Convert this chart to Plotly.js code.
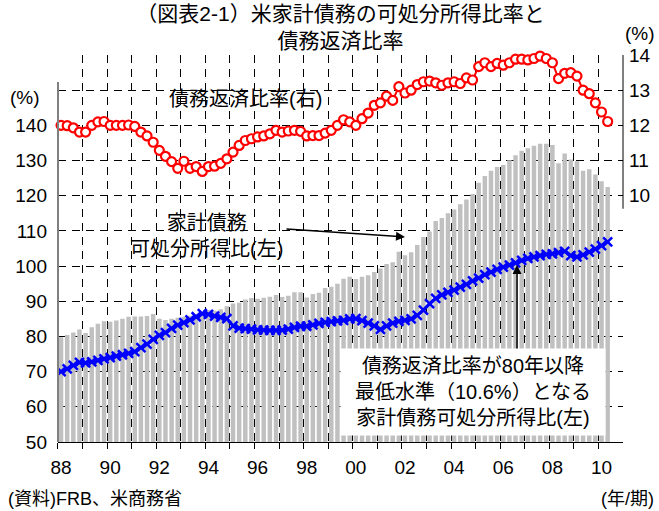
<!DOCTYPE html>
<html><head><meta charset="utf-8">
<script src="https://cdn.plot.ly/plotly-3.0.1.min.js"></script>
<style>html,body{margin:0;padding:0;background:#fff}</style>
</head><body><div id="chart" style="width:659px;height:511px"></div>
<script>
// Quarterly data, 1988Q1 - 2010Q2
const startYear = 1988;
// Household debt / disposable income (%) - gray bars, left axis
const debtIncomeBars = [
  79.8, 80.4, 81.1, 82.0, 81.0, 82.6, 83.6, 84.3, 84.2, 84.5,
  85.0, 85.6, 85.7, 85.7, 85.8, 86.4, 85.0, 84.7, 85.0, 85.3,
  85.6, 85.9, 86.4, 87.0, 87.5, 87.3, 87.7, 88.6, 89.4, 89.6,
  90.5, 90.9, 90.7, 91.0, 91.3, 91.8, 91.2, 91.6, 92.6, 92.6,
  91.1, 92.1, 92.4, 93.8, 94.1, 95.0, 96.4, 97.0, 96.3, 97.0,
  97.4, 98.3, 99.3, 100.6, 101.1, 104.1, 103.1, 103.9, 106.0, 108.3,
  109.8, 112.8, 113.7, 115.0, 116.1, 117.6, 118.9, 120.5, 123.7, 125.6,
  127.1, 128.2, 128.7, 130.1, 131.5, 132.8, 133.5, 134.2, 134.8, 134.8,
  134.4, 129.2, 132.0, 130.3, 129.8, 127.1, 127.5, 126.0, 124.1, 122.5
];
// Debt / disposable income at which debt service ratio = 10.6% (blue, left axis)
const lowDsrDebtIncome = [
  70.0, 70.8, 71.8, 72.6, 72.5, 72.8, 73.2, 73.6, 74.0, 74.4,
  74.8, 75.2, 75.7, 76.8, 77.8, 79.2, 80.3, 81.1, 82.3, 83.2,
  83.9, 84.7, 85.6, 86.5, 86.3, 85.8, 85.4, 85.1, 83.0, 82.4,
  82.2, 82.1, 81.9, 81.8, 81.7, 81.7, 81.8, 82.1, 82.6, 82.9,
  82.9, 83.3, 83.7, 84.0, 84.2, 84.4, 84.6, 85.0, 85.1, 84.5,
  83.8, 83.0, 82.0, 83.0, 83.8, 84.3, 84.6, 85.0, 86.0, 87.5,
  89.3, 90.8, 91.8, 92.5, 93.2, 94.0, 94.8, 95.8, 96.6, 97.6,
  98.3, 99.1, 99.7, 100.3, 100.9, 101.6, 102.2, 102.6, 103.0, 103.3,
  103.5, 103.8, 104.2, 103.0, 102.6, 103.2, 104.0, 104.8, 105.8, 106.9
];
// Debt service ratio (%) - red, right axis
const debtServiceRatio = [
  12.00, 11.99, 11.93, 11.81, 11.81, 12.00, 12.10, 12.11, 12.00, 12.00,
  12.00, 12.01, 11.97, 11.81, 11.70, 11.52, 11.29, 11.12, 10.97, 10.78,
  10.98, 10.78, 10.83, 10.69, 10.83, 10.84, 10.92, 11.05, 11.24, 11.43,
  11.57, 11.62, 11.67, 11.70, 11.76, 11.86, 11.81, 11.84, 11.86, 11.83,
  11.70, 11.71, 11.71, 11.78, 11.86, 12.00, 12.16, 12.10, 12.00, 12.19,
  12.35, 12.57, 12.64, 12.83, 12.71, 13.10, 12.92, 13.00, 13.16, 13.24,
  13.26, 13.21, 13.14, 13.21, 13.24, 13.19, 13.35, 13.29, 13.67, 13.78,
  13.67, 13.76, 13.71, 13.78, 13.88, 13.88, 13.86, 13.90, 13.97, 13.90,
  13.78, 13.33, 13.48, 13.50, 13.40, 13.00, 12.90, 12.64, 12.38, 12.11
];
const xTickVals = [1988, 1990, 1992, 1994, 1996, 1998, 2000, 2002, 2004, 2006, 2008, 2010];
const xTickText = ["88", "90", "92", "94", "96", "98", "00", "02", "04", "06", "08", "10"];
const leftTickVals = [50, 60, 70, 80, 90, 100, 110, 120, 130, 140, 150, 160];
const leftTickText = ["50", "60", "70", "80", "90", "100", "110", "120", "130", "140", "", ""];
const rightTickVals = [10, 11, 12, 13, 14];

const quarters = debtIncomeBars.map((_, i) => startYear + i / 4);
const yearBoundaries = [];
for (let y = startYear; y <= 2010; y++) yearBoundaries.push(y - 0.125);

const numFont = 'Liberation Sans, Arial, Noto Sans CJK JP, sans-serif';
const jpFont = 'Liberation Sans, Noto Sans CJK JP, sans-serif';
const gridDash = '8px,6px';
const xRange = [1987.876, 2010.874];

const traces = [
  {
    type: 'bar', x: quarters, y: debtIncomeBars, xaxis: 'x', yaxis: 'y',
    marker: {color: '#C0C0C0', line: {width: 0}}, hoverinfo: 'skip', showlegend: false
  },
  {
    type: 'scatter', mode: 'lines+markers', x: quarters, y: lowDsrDebtIncome, xaxis: 'x2', yaxis: 'y',
    line: {color: '#0000FF', width: 3},
    marker: {symbol: 'x-thin', size: 9, color: '#0000FF', line: {color: '#0000FF', width: 2.5}},
    hoverinfo: 'skip', showlegend: false
  },
  {
    type: 'scatter', mode: 'lines+markers', x: quarters, y: debtServiceRatio, xaxis: 'x', yaxis: 'y2',
    line: {color: '#FF0000', width: 2},
    marker: {symbol: 'circle', size: 9, color: '#FFFFFF', line: {color: '#FF0000', width: 2.2}},
    cliponaxis: false, hoverinfo: 'skip', showlegend: false
  }
];

const layout = {
  width: 659, height: 511,
  margin: {l: 58, r: 36, t: 55, b: 69},
  paper_bgcolor: '#FFFFFF', plot_bgcolor: '#FFFFFF',
  font: {family: jpFont, color: '#000000', size: 19},
  bargap: 0.27,
  title: {
    text: '（図表2-1）米家計債務の可処分所得比率と<br>債務返済比率',
    font: {family: jpFont, size: 21, color: '#000'},
    x: 0.5, xref: 'paper', xanchor: 'center',
    y: 1 - 21 / 511, yref: 'container', yanchor: 'bottom'
  },
  xaxis: {
    range: xRange,
    tickmode: 'array', tickvals: yearBoundaries,
    ticktext: yearBoundaries.map(() => ''),
    ticks: 'outside', ticklen: 6, tickcolor: '#000', tickwidth: 1,
    showgrid: true, gridcolor: '#000000', gridwidth: 1, griddash: gridDash,
    zeroline: false, showline: true, linecolor: '#000000', linewidth: 1
  },
  xaxis2: {
    overlaying: 'x', anchor: 'y', side: 'bottom',
    range: xRange,
    tickmode: 'array', tickvals: xTickVals, ticktext: xTickText,
    ticks: '', showgrid: false, zeroline: false, showline: false,
    tickfont: {family: numFont, size: 19},
    ticklabelstandoff: 12
  },
  yaxis: {
    range: [50, 160],
    tickmode: 'array', tickvals: leftTickVals, ticktext: leftTickText,
    ticks: '', showline: false, zeroline: false,
    showgrid: true, gridcolor: '#000000', gridwidth: 1, griddash: gridDash,
    tickfont: {family: numFont, size: 19},
    ticklabelstandoff: 10
  },
  yaxis2: {
    overlaying: 'y', side: 'right', anchor: 'x',
    range: [3, 14],
    tickmode: 'array', tickvals: rightTickVals,
    ticks: '', showgrid: false, zeroline: false, showline: false,
    tickfont: {family: numFont, size: 19},
    ticklabelstandoff: 5
  },
  shapes: [
    {type: 'line', xref: 'paper', yref: 'y', x0: 0, x1: 0, y0: 50, y1: 152.3,
     line: {color: '#808080', width: 2}},
    {type: 'line', xref: 'paper', yref: 'y2', x0: 1, x1: 1, y0: 9.63, y1: 14,
     line: {color: '#000000', width: 1}}
  ],
  annotations: [
    {text: '(%)', xref: 'paper', yref: 'paper', x: -0.058, y: 0.889,
     xanchor: 'center', yanchor: 'middle', showarrow: false, font: {size: 19}},
    {text: '(%)', xref: 'paper', yref: 'paper', x: 1.03, y: 1.055,
     xanchor: 'center', yanchor: 'middle', showarrow: false, font: {size: 19}},
    {text: '債務返済比率(右)', xref: 'paper', yref: 'paper', x: 0.331, y: 0.886,
     xanchor: 'center', yanchor: 'middle', showarrow: false, font: {size: 20}},
    {text: '家計債務<br>可処分所得比(左)', xref: 'paper', yref: 'paper', x: 0.262, y: 0.532,
     xanchor: 'center', yanchor: 'middle', showarrow: false, font: {size: 20}},
    {text: '', xref: 'x', yref: 'y', x: 2002.0, y: 108.3, ax: -120, ay: -8,
     showarrow: true, arrowhead: 2, arrowsize: 1.2, arrowwidth: 1.5, arrowcolor: '#000'},
    {text: '債務返済比率が80年以降<br>最低水準（10.6%）となる<br>家計債務可処分所得比(左)',
     xref: 'paper', yref: 'paper', x: 0.7345, y: 0.129, xanchor: 'center', yanchor: 'middle',
     showarrow: false, bgcolor: '#FFFFFF', width: 262, height: 84, align: 'center',
     font: {size: 20}},
    {text: '', xref: 'x', yref: 'y', x: 2006.56, y: 100.3, ax: 0, ay: 85,
     showarrow: true, arrowhead: 2, arrowsize: 1.2, arrowwidth: 1.5, arrowcolor: '#000'},
    {text: '(資料)FRB、米商務省', xref: 'paper', yref: 'paper', x: -0.092, y: -0.147,
     xanchor: 'left', yanchor: 'middle', showarrow: false, font: {size: 18}},
    {text: '(年/期)', xref: 'paper', yref: 'paper', x: 1.058, y: -0.147,
     xanchor: 'right', yanchor: 'middle', showarrow: false, font: {size: 18}}
  ]
};

Plotly.newPlot('chart', traces, layout, {displayModeBar: false, staticPlot: true});
</script>
</body></html>
